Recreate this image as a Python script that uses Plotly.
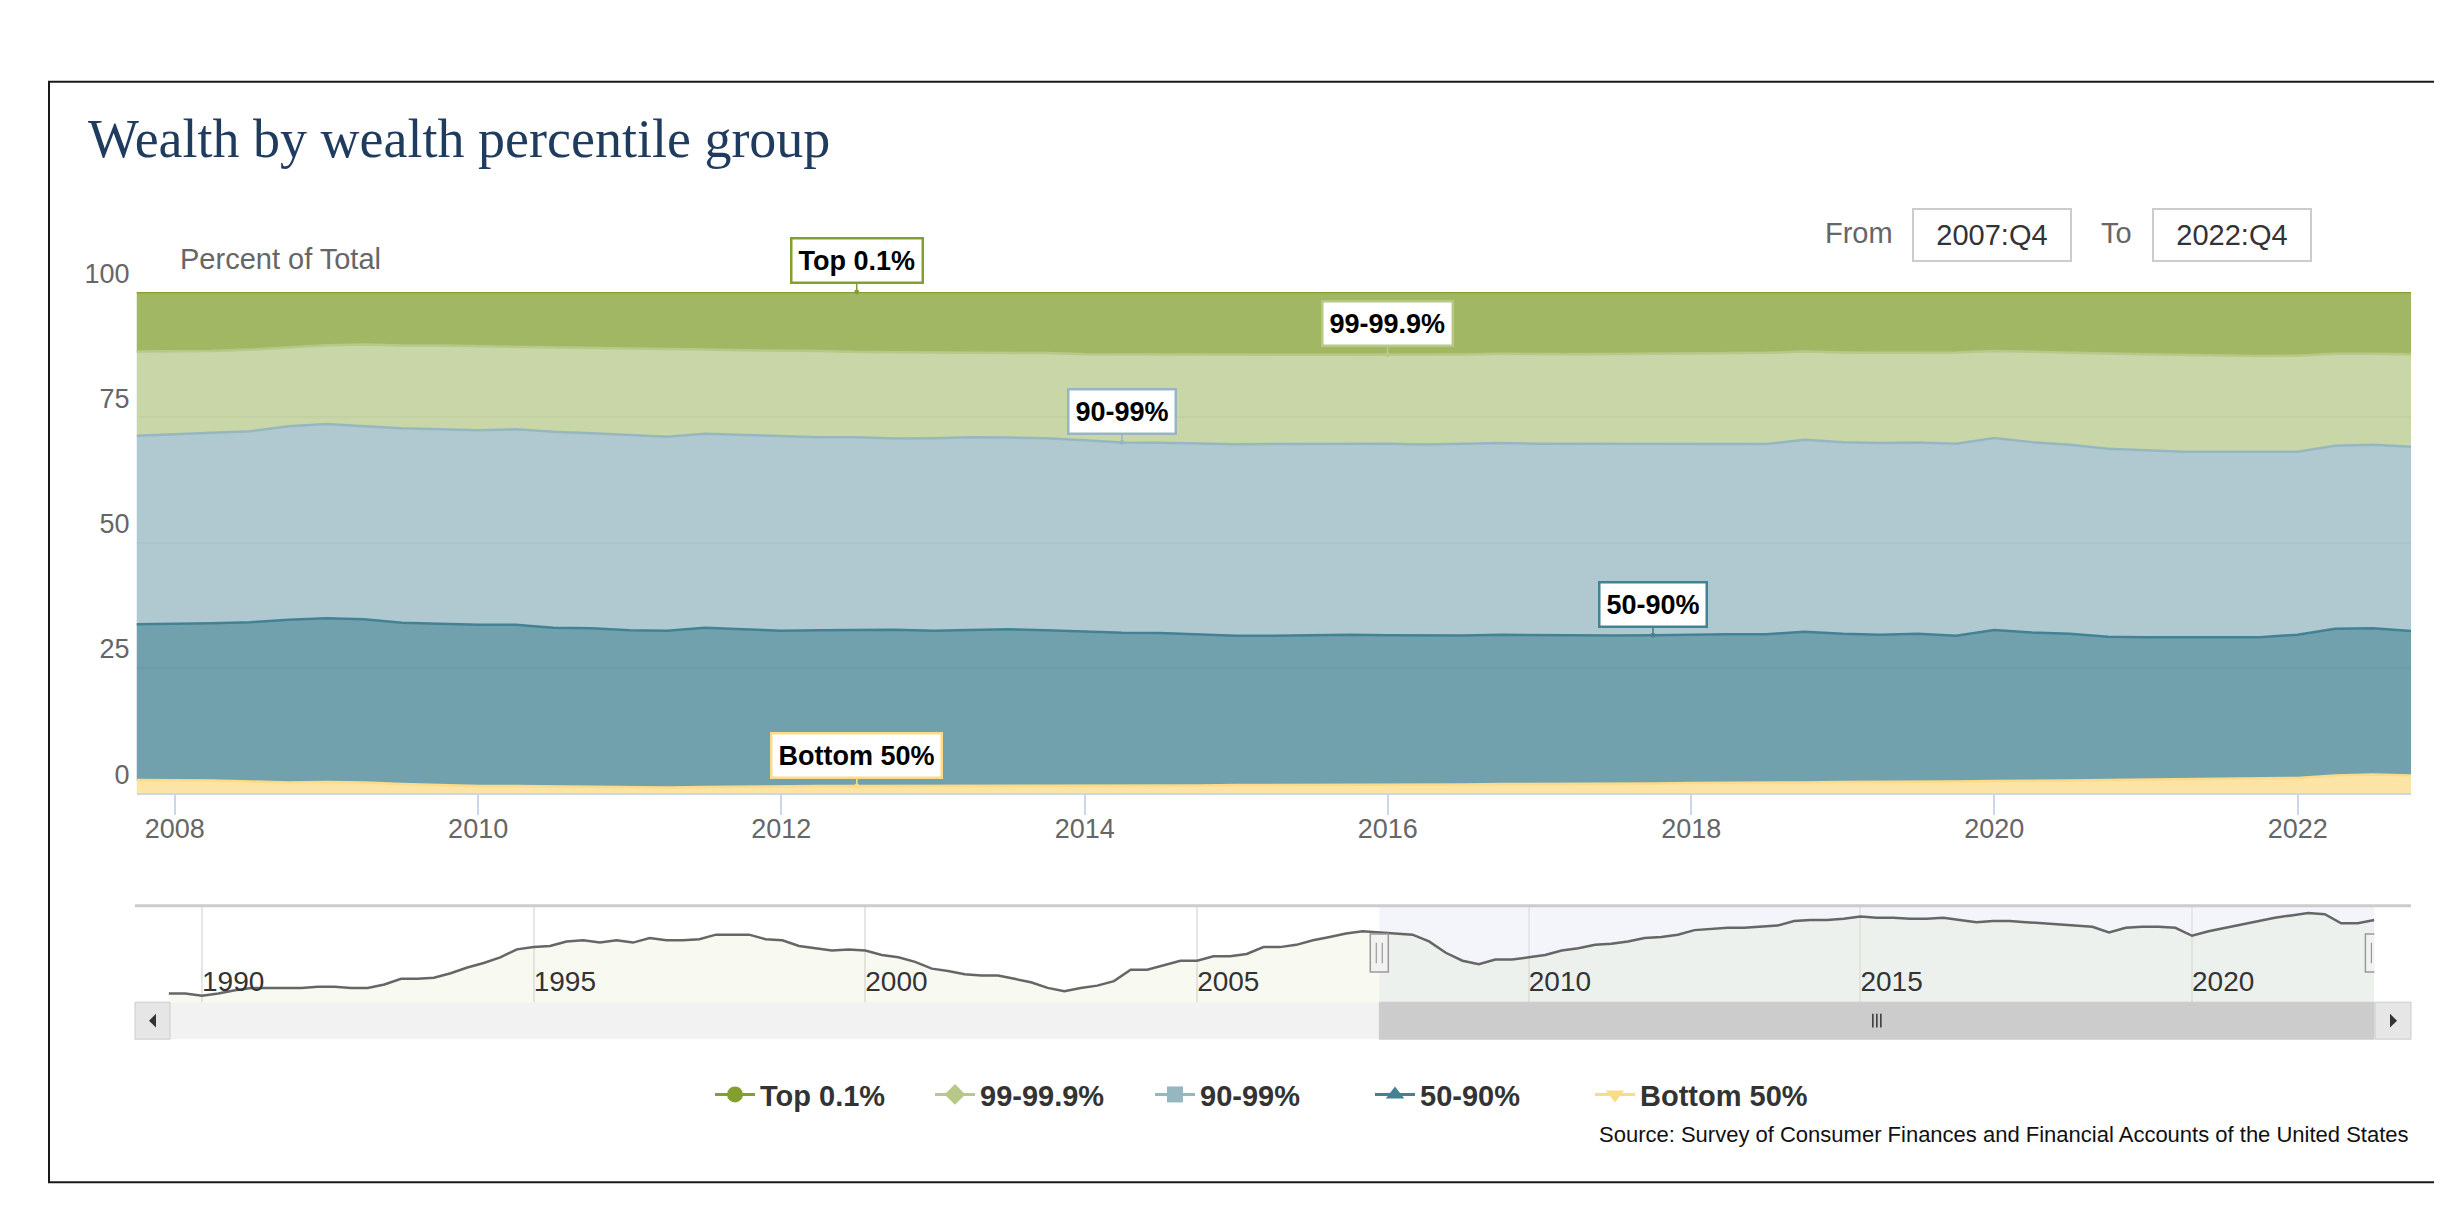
import pandas as pd
import plotly.graph_objects as go

W, H = 2442, 1216

# quarterly index of the main chart and of the navigator underneath
quarters = pd.period_range("2007Q4", "2022Q4", freq="Q")
nav_quarters = pd.period_range("1989Q3", "2022Q4", freq="Q")

# shares of total wealth (percent), 2007Q4 .. 2022Q4
bottom50 = [2.6, 2.6, 2.5, 2.3, 2.1, 2.2, 2.1, 1.8, 1.6, 1.4,
            1.4, 1.3, 1.3, 1.2, 1.1, 1.2, 1.3, 1.3, 1.4, 1.4,
            1.4, 1.4, 1.4, 1.5, 1.5, 1.5, 1.5, 1.5, 1.5, 1.6,
            1.6, 1.6, 1.7, 1.7, 1.7, 1.7, 1.8, 1.8, 1.8, 1.9,
            1.9, 2.0, 2.0, 2.1, 2.1, 2.2, 2.2, 2.3, 2.3, 2.4,
            2.4, 2.5, 2.6, 2.7, 2.8, 2.9, 3.0, 3.0, 3.5, 3.7,
            3.5]
p50_90 = [31.1, 31.2, 31.4, 31.8, 32.5, 32.7, 32.6, 32.2, 32.2, 32.2,
          32.2, 31.7, 31.6, 31.3, 31.3, 31.8, 31.4, 31.1, 31.1, 31.1,
          31.2, 31.0, 31.1, 31.2, 31.0, 30.7, 30.5, 30.4, 30.2, 29.8,
          29.8, 29.9, 29.9, 29.8, 29.7, 29.7, 29.8, 29.7, 29.6, 29.5,
          29.6, 29.6, 29.7, 29.6, 30.1, 29.6, 29.4, 29.5, 29.1, 30.1,
          29.6, 29.3, 28.6, 28.4, 28.3, 28.2, 28.1, 28.6, 29.3, 29.2,
          28.8]
p90_99 = [37.6, 37.8, 37.9, 38.1, 38.6, 38.8, 38.5, 38.8, 38.8, 38.8,
          39.0, 39.1, 38.9, 39.0, 38.7, 38.7, 38.8, 38.7, 38.5, 38.5,
          38.2, 38.4, 38.5, 38.3, 38.3, 38.2, 38.0, 38.0, 38.0, 38.2,
          38.3, 38.2, 38.2, 38.2, 38.2, 38.3, 38.3, 38.2, 38.3, 38.2,
          38.1, 38.1, 38.0, 38.0, 38.3, 38.2, 38.3, 38.2, 38.3, 38.3,
          38.0, 37.7, 37.5, 37.3, 37.0, 37.0, 37.0, 36.5, 36.5, 36.6,
          36.8]
p99_999 = [16.8, 16.6, 16.4, 16.3, 15.8, 15.7, 16.3, 16.5, 16.7, 16.8,
           16.5, 16.8, 17.0, 17.2, 17.5, 16.8, 16.9, 17.2, 17.2, 17.0,
           17.2, 17.1, 16.9, 16.9, 17.0, 17.2, 17.6, 17.6, 17.8, 17.8,
           17.8, 17.8, 17.7, 17.8, 17.9, 17.8, 17.8, 17.9, 17.9, 18.0,
           18.1, 18.0, 18.1, 18.2, 17.6, 17.9, 18.0, 17.9, 18.2, 17.4,
           18.0, 18.4, 19.0, 19.2, 19.3, 19.2, 19.1, 19.2, 18.4, 18.2,
           18.4]
top01 = [11.9, 11.85, 11.8, 11.5, 11.0, 10.65, 10.5, 10.7, 10.7, 10.8,
         10.9, 11.1, 11.2, 11.35, 11.4, 11.5, 11.65, 11.7, 11.8, 12.0,
         12.05, 12.1, 12.1, 12.15, 12.2, 12.4, 12.45, 12.45, 12.5, 12.6,
         12.55, 12.55, 12.5, 12.5, 12.55, 12.45, 12.35, 12.4, 12.4, 12.35,
         12.3, 12.25, 12.2, 12.15, 11.9, 12.1, 12.15, 12.15, 12.1, 11.75,
         11.95, 12.1, 12.25, 12.4, 12.55, 12.65, 12.75, 12.7, 12.3, 12.3,
         12.45]

# top 0.1% share before the selected range (navigator only), 1989Q3 .. 2007Q3
nav_top01_early = [9.2, 9.2, 9.1, 9.2, 9.35, 9.45, 9.45, 9.45, 9.45, 9.5,
                   9.5, 9.45, 9.45, 9.6, 9.85, 9.85, 9.9, 10.1, 10.35, 10.55,
                   10.8, 11.15, 11.25, 11.3, 11.5, 11.55, 11.45, 11.55, 11.45, 11.65,
                   11.55, 11.55, 11.6, 11.8, 11.8, 11.8, 11.6, 11.55, 11.3, 11.2,
                   11.1, 11.15, 11.1, 10.9, 10.8, 10.6, 10.3, 10.2, 10.05, 10.0,
                   10.0, 9.85, 9.7, 9.45, 9.3, 9.45, 9.55, 9.75, 10.25, 10.25,
                   10.45, 10.65, 10.65, 10.85, 10.85, 10.95, 11.25, 11.25, 11.35, 11.55,
                   11.7, 11.85, 11.95]

groups = ["Bottom 50%", "50-90%", "90-99%", "99-99.9%", "Top 0.1%"]
shares = [bottom50, p50_90, p90_99, p99_999, top01]
colors = ["#fbdb88", "#438293", "#96b7c0", "#b7c889", "#839f30"]
symbols = ["triangle-down", "triangle-up", "square", "diamond", "circle"]
label_at = ["2012Q3", "2017Q4", "2014Q2", "2016Q1", "2012Q3"]


def px(x):
    return x / W


def py(y):
    return 1 - y / H


def rgba(c, a):
    c = c.lstrip("#")
    return "rgba(%d,%d,%d,%s)" % (int(c[0:2], 16), int(c[2:4], 16), int(c[4:6], 16), a)


dates = quarters.to_timestamp()
nav_dates = nav_quarters.to_timestamp()
nav_values = nav_top01_early + top01

fig = go.Figure()

for i in range(len(groups)):
    fig.add_trace(go.Scatter(
        x=dates, y=shares[i], name=groups[i], stackgroup="wealth",
        groupnorm="percent" if i == 0 else None,
        mode="lines", line=dict(color=colors[i], width=2.5),
        fillcolor=rgba(colors[i], 0.75), showlegend=False))

# legend entries (line + marker symbols, top group first)
for i in reversed(range(len(groups))):
    fig.add_trace(go.Scatter(
        x=[None], y=[None], name=groups[i], mode="lines+markers",
        line=dict(color=colors[i], width=3),
        marker=dict(symbol=symbols[i], size=16, color=colors[i])))

fig.add_trace(go.Scatter(
    x=nav_dates, y=nav_values, xaxis="x2", yaxis="y2", mode="lines",
    line=dict(color="#666666", width=2.5), fill="tozeroy",
    fillcolor="rgba(200,210,150,0.12)", showlegend=False, hoverinfo="skip"))

# data labels on the stacked areas
totals = [sum(s[k] for s in shares) for k in range(len(dates))]
qlist = list(quarters.astype(str))
annotations = []
for i in range(len(groups)):
    k = qlist.index(label_at[i])
    cum = sum(shares[j][k] for j in range(i + 1)) / totals[k] * 100
    annotations.append(dict(
        x=dates[k], y=cum, xref="x", yref="y", text="<b>%s</b>" % groups[i],
        showarrow=True, ax=0, ay=-31, arrowhead=6, arrowsize=0.8, arrowwidth=1.5,
        arrowcolor=colors[i], standoff=0, bgcolor="white", bordercolor=colors[i],
        borderwidth=2.5, borderpad=6, font=dict(size=27, color="black")))

font_sans = "Liberation Sans, Arial, sans-serif"


def note(x, y, text, size, color, xanchor="center", **kw):
    return dict(x=px(x), y=py(y), xref="paper", yref="paper", xanchor=xanchor,
                yanchor="middle", text=text, showarrow=False,
                font=dict(size=size, color=color, family=kw.pop("family", font_sans)), **kw)


annotations += [
    note(78, 101, "Wealth by wealth percentile group", 54, "#1f3b5e", "left",
         family="Liberation Serif, Times New Roman, serif"),
    note(170, 224, "Percent of Total", 29, "#666666", "left"),
    note(1851, 197, "From", 29, "#666666"),
    note(2108, 197, "To", 29, "#666666"),
    note(2403, 1124, "Source: Survey of Consumer Finances and Financial Accounts of the United States",
         22, "#111111", "right"),
]
for xc, q in [(1984, quarters[0]), (2224, quarters[-1])]:
    annotations.append(note(xc, 199, "%d:Q%d" % (q.year, q.quarter), 29, "#333333",
                            width=150, height=44, borderpad=3, bordercolor="#cccccc",
                            borderwidth=2, bgcolor="white"))

mid = dates[0] + (dates[-1] - dates[0]) / 2
nav_top, nav_bot = py(889), py(988)
shapes = [
    # outer frame
    dict(type="rect", xref="paper", yref="paper", x0=px(41), x1=px(2439), y0=py(1173), y1=py(42),
         line=dict(color="#1a1a1a", width=2)),
    # navigator mask + outline
    dict(type="rect", xref="x2", yref="paper", x0=dates[0], x1=dates[-1], y0=nav_bot, y1=nav_top,
         fillcolor="rgba(102,133,194,0.08)", line=dict(width=0), layer="below"),
    dict(type="line", xref="paper", yref="paper", x0=px(127), x1=px(2403), y0=nav_top, y1=nav_top,
         line=dict(color="#cccccc", width=3)),
    # scrollbar
    dict(type="rect", xref="paper", yref="paper", x0=px(127), x1=px(2403), y0=py(1026), y1=py(988),
         fillcolor="#f2f2f2", line=dict(width=0)),
    dict(type="rect", xref="x2", yref="paper", x0=dates[0], x1=dates[-1], y0=py(1026), y1=py(988),
         fillcolor="#cccccc", line=dict(color="#cccccc", width=1)),
    dict(type="rect", xref="paper", yref="paper", x0=px(127), x1=px(162), y0=py(1026), y1=py(988),
         fillcolor="#e6e6e6", line=dict(color="#cccccc", width=1)),
    dict(type="rect", xref="paper", yref="paper", x0=px(2367), x1=px(2403), y0=py(1026), y1=py(988),
         fillcolor="#e6e6e6", line=dict(color="#cccccc", width=1)),
    dict(type="path", xref="paper", yref="paper",
         path="M %f,%f L %f,%f L %f,%f Z" % (px(148), py(1000), px(148), py(1014), px(141), py(1007)),
         fillcolor="#333333", line=dict(width=0)),
    dict(type="path", xref="paper", yref="paper",
         path="M %f,%f L %f,%f L %f,%f Z" % (px(2382), py(1000), px(2382), py(1014), px(2389), py(1007)),
         fillcolor="#333333", line=dict(width=0)),
]
for dx in (-4, 0, 4):
    shapes.append(dict(type="line", xref="x2", yref="paper", xsizemode="pixel", xanchor=mid,
                       x0=dx, x1=dx, y0=py(1014), y1=py(1000), line=dict(color="#333333", width=1.5)))
for edge in (dates[0], dates[-1]):
    shapes.append(dict(type="rect", xref="x2", yref="paper", xsizemode="pixel", xanchor=edge,
                       x0=-9, x1=9, y0=py(957), y1=py(918), fillcolor="#f2f2f2",
                       line=dict(color="#999999", width=1.5)))
    for dx in (-3, 3):
        shapes.append(dict(type="line", xref="x2", yref="paper", xsizemode="pixel", xanchor=edge,
                           x0=dx, x1=dx, y0=py(948), y1=py(927), line=dict(color="#999999", width=1.2)))

fig.update_layout(
    width=W, height=H, margin=dict(l=0, r=0, t=0, b=0),
    paper_bgcolor="white", plot_bgcolor="white",
    font=dict(family=font_sans, color="#666666"),
    xaxis=dict(domain=[px(128.5), px(2403)], anchor="y", type="date",
               range=[dates[0], dates[-1]], tickformat="%Y", dtick="M24", tick0="2008-01-01",
               ticks="outside", ticklen=20, tickwidth=2, tickcolor="#ccd6eb",
               ticklabelstandoff=-9,
               showline=True, linecolor="#ccd6eb", linewidth=2, showgrid=False,
               tickfont=dict(size=27, color="#666666")),
    yaxis=dict(domain=[py(773), py(258)], anchor="x", range=[0, 100],
               tickvals=[0, 25, 50, 75, 100], showgrid=True, gridcolor="#e6e6e6", gridwidth=2,
               zeroline=False, ticklabelposition="outside top", ticklabelstandoff=6,
               tickfont=dict(size=27, color="#666666")),
    xaxis2=dict(domain=[px(160.6), px(2366.4)], anchor="y2", type="date",
                range=[nav_dates[0], nav_dates[-1]], tickformat="%Y", dtick="M60",
                tick0="1990-01-01", showgrid=True, gridcolor="#e6e6e6", gridwidth=2,
                ticks="", ticklabelposition="inside right", showline=False, zeroline=False,
                tickfont=dict(size=28, color="#333333")),
    yaxis2=dict(domain=[nav_bot, nav_top], anchor="x2", range=[8.82, 13.07], visible=False),
    legend=dict(orientation="h", x=px(1252), xanchor="center", y=py(1083), yanchor="middle",
                traceorder="normal", entrywidth=165, entrywidthmode="pixels",
                font=dict(size=29, color="#333333", weight="bold"), itemwidth=40,
                bgcolor="rgba(0,0,0,0)"),
    annotations=annotations, shapes=shapes, hovermode="x unified",
)

fig.write_html("out.html")
